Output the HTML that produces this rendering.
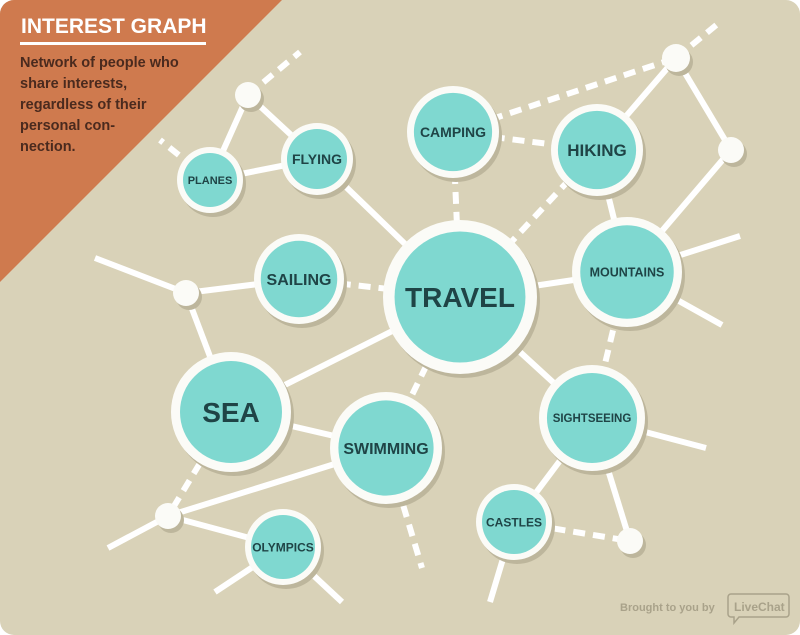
<!DOCTYPE html>
<html><head><meta charset="utf-8">
<style>
html,body{margin:0;padding:0;background:#fff;}
svg{display:block;}
text{font-family:"Liberation Sans",sans-serif;font-weight:bold;}
</style></head>
<body>
<svg id="chart" width="800" height="635" viewBox="0 0 800 635" xmlns="http://www.w3.org/2000/svg">
  <defs><clipPath id="clip"><rect x="0" y="0" width="800" height="635" rx="14"/></clipPath></defs>
  <g clip-path="url(#clip)">
    <rect x="0" y="0" width="800" height="635" fill="#d9d2b8"/>
    <polygon points="0,0 282,0 0,282" fill="#cf7a4e"/>
    <g id="edges"></g>
    <g id="nodes"></g>
  </g>
  <text x="21" y="33" font-size="21" fill="#fff">INTEREST GRAPH</text>
  <rect x="20" y="42" width="186" height="3" fill="#fff"/>
  <g font-size="14.5" fill="#4a2a1e">
    <text x="20" y="67">Network of people who</text>
    <text x="20" y="88">share interests,</text>
    <text x="20" y="109">regardless of their</text>
    <text x="20" y="130">personal con-</text>
    <text x="20" y="151">nection.</text>
  </g>
  <text x="620" y="611" font-size="11" fill="#a9a28a">Brought to you by</text>
  <g>
    <path d="M731,594 h55 a3,3 0 0 1 3,3 v17 a3,3 0 0 1 -3,3 h-47 l-5,6 v-6 h-3 a3,3 0 0 1 -3,-3 v-17 a3,3 0 0 1 3,-3z" fill="none" stroke="#a9a28a" stroke-width="1.5"/>
    <text x="734" y="611" font-size="12" fill="#a9a28a" font-weight="normal">LiveChat</text>
  </g>
</svg>
<script>
// node data: labels, centers, radii
const nodeLabels = ["TRAVEL","CAMPING","HIKING","MOUNTAINS","SAILING","SEA","SWIMMING","SIGHTSEEING","CASTLES","OLYMPICS","FLYING","PLANES","","","","","",""];
const nodeX = [460,453,597,627,299,231,386,592,514,283,317,210,248,676,731,186,168,630];
const nodeY = [297,132,150,272,279,412,448,418,522,547,159,180,95,58,150,293,516,541];
const nodeR = [77,46,46,55,45,60,56,53,38,38,36,33,13,14,13,13,13,13];
const nodeFont = [28,14,17,12.5,16,28,16,11.5,12,12,14,11,0,0,0,0,0,0];
// edges: [from, to(node index or free endpoint), dashed]
const edgeFrom = [11,10,11,12,11,10,1,1,1,2,2,2,13,13,14,3,3,3,3,4,15,15,15,5,5,5,6,6,6,16,16,9,9,0,7,7,7,8,8];
const edgeTo   = [12,12,10,"300,52","160,140",0,0,2,13,0,13,3,"720,22",14,3,0,"740,236","722,325",7,0,"95,258",4,5,0,6,16,0,16,"422,568","108,548",9,"215,592","342,602",7,"706,448",8,17,17,"490,602"];
const edgeDash = [0,0,0,1,1,0,1,1,1,1,0,0,1,0,0,0,0,0,1,1,0,0,0,0,0,1,1,0,1,0,0,0,0,0,0,0,0,1,0];

const NS="http://www.w3.org/2000/svg";
const eg=document.getElementById('edges'), ng=document.getElementById('nodes');
function pt(v){ if(typeof v==="number") return [nodeX[v],nodeY[v]]; const p=v.split(",").map(Number); return p; }
for(let i=0;i<edgeFrom.length;i++){
  const a=pt(edgeFrom[i]), b=pt(edgeTo[i]);
  const l=document.createElementNS(NS,'line');
  
  
  l.setAttribute('x1',a[0]);l.setAttribute('y1',a[1]);l.setAttribute('x2',b[0]);l.setAttribute('y2',b[1]);
  l.setAttribute('stroke','#fff');l.setAttribute('stroke-width','6');
  if(edgeDash[i]) l.setAttribute('stroke-dasharray','12 8');
  eg.appendChild(l);
}
for(let i=0;i<nodeX.length;i++){
  const g=document.createElementNS(NS,'g');
  
  
  const s=document.createElementNS(NS,'circle');
  s.setAttribute('cx',nodeX[i]+3);s.setAttribute('cy',nodeY[i]+4);s.setAttribute('r',nodeR[i]);s.setAttribute('fill','#bdb69c');
  g.appendChild(s);
  const o=document.createElementNS(NS,'circle');
  o.setAttribute('cx',nodeX[i]);o.setAttribute('cy',nodeY[i]);o.setAttribute('r',nodeR[i]);o.setAttribute('fill','#fbfbf7');
  g.appendChild(o);
  if(nodeLabels[i]){
    const w=Math.max(6,nodeR[i]*0.15);
    const c=document.createElementNS(NS,'circle');
    c.setAttribute('cx',nodeX[i]);c.setAttribute('cy',nodeY[i]);c.setAttribute('r',nodeR[i]-w);c.setAttribute('fill','#7fd8d0');
    g.appendChild(c);
    const t=document.createElementNS(NS,'text');
    t.setAttribute('x',nodeX[i]);t.setAttribute('y',nodeY[i]+nodeFont[i]*0.36);
    t.setAttribute('text-anchor','middle');t.setAttribute('font-size',nodeFont[i]);t.setAttribute('fill','#1f4446');
    t.textContent=nodeLabels[i];
    g.appendChild(t);
  }
  ng.appendChild(g);
}
</script>
</body></html>
